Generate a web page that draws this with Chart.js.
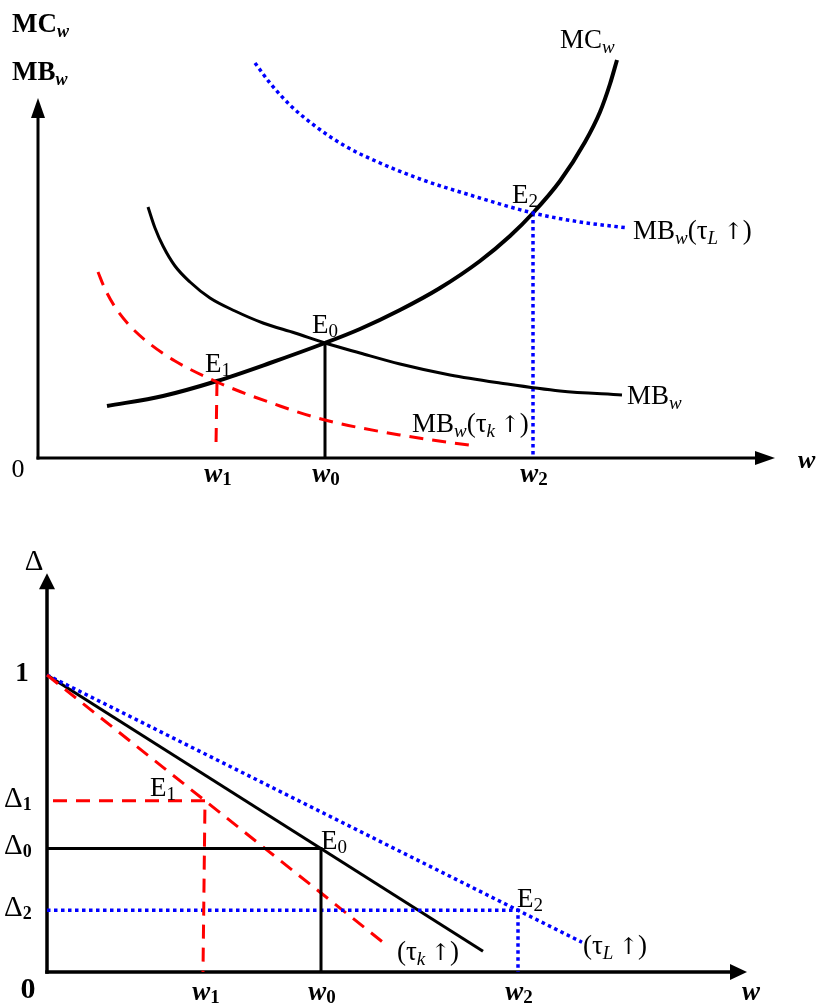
<!DOCTYPE html>
<html><head><meta charset="utf-8">
<script src="https://cdn.jsdelivr.net/npm/chart.js@4.4.1/dist/chart.umd.min.js"></script>
<style>
html,body{margin:0;padding:0;background:#fff;}
#wrap{position:relative;width:819px;height:1006px;background:#fff;}
canvas{position:absolute;left:0;top:0;}
</style>
</head><body>
<div id="wrap"><canvas id="cTop" width="819" height="1006"></canvas><canvas id="cBot" width="819" height="1006"></canvas></div>
<script>
// ---------- Top panel data (w on x, MC/MB on y) ----------
const mcW = [6.9, 12.5, 17.9, 23.2, 28.7, 32.2, 36.2, 40.2, 44.2, 47.2, 49.5, 52.2, 54.7, 56.2, 57.2, 57.9];
const mcV = [5.2, 6.2, 7.7, 9.5, 11.5, 12.9, 14.8, 17.0, 19.7, 22.2, 24.5, 27.7, 31.6, 34.6, 37.4, 39.8];
const mbW = [11.0, 11.7, 12.5, 13.7, 15.2, 17.2, 19.7, 22.5, 25.7, 28.7, 32.2, 36.2, 41.2, 46.2, 52.2, 58.4];
const mbV = [25.1, 23.0, 21.2, 19.2, 17.6, 16.0, 14.7, 13.5, 12.5, 11.5, 10.5, 9.4, 8.3, 7.5, 6.7, 6.3];
const mbKW = [6.0, 6.7, 7.7, 9.2, 11.2, 13.7, 17.9, 24.2, 28.7, 36.2, 43.7];
const mbKV = [18.6, 16.9, 15.1, 13.2, 11.4, 9.7, 7.6, 5.2, 3.8, 2.3, 1.2];
const mbLW = [21.7, 23.2, 25.2, 27.7, 30.7, 34.2, 38.2, 43.2, 49.5, 54.2, 59.0];
const mbLV = [39.5, 37.5, 35.3, 33.2, 31.2, 29.5, 27.9, 26.3, 24.5, 23.6, 23.0];
const topEqW = [17.9, 28.7, 49.5];      // w1, w0, w2
const topEqV = [7.6, 11.5, 24.5];       // E1, E0, E2
const topDropEnd = [1.3, 0, 0];
const topTickSubs = ['1', '0', '2'];
const topEqSubs = ['1', '0', '2'];

// ---------- Bottom panel data (w on x, Delta on y) ----------
const deltaStartW = 0, deltaStartV = 1;
const baseEnd = [43.6, 0.07];
const tkEnd = [33.6, 0.10];
const tlEnd = [53.5, 0.10];
const botEqW = [15.8, 27.4, 47.1];
const botEqV = [0.577, 0.416, 0.208];
const botTickSubs = ['1', '0', '2'];
const deltaTickSubs = ['1', '0', '2'];

const SERIF = '"Liberation Serif","DejaVu Serif",serif';
const F = (size, style) => `${style || ''} ${size}px ${SERIF}`;
const FA = size => `${size}px "DejaVu Serif",serif`;
const zip = (a, b) => a.map((x, i) => ({x, y: b[i]}));

function rich(ctx, x, y, segs, align) {
  let w = 0;
  segs.forEach(s => { ctx.font = s.f; w += ctx.measureText(s.t).width; });
  let cx = align === 'center' ? x - w / 2 : (align === 'right' ? x - w : x);
  ctx.textAlign = 'left'; ctx.textBaseline = 'alphabetic'; ctx.fillStyle = '#000';
  segs.forEach(s => { ctx.font = s.f; ctx.fillText(s.t, cx, y + (s.dy || 0)); cx += ctx.measureText(s.t).width; });
}
function arrowUp(ctx, x, tipY, len, half) {
  ctx.beginPath(); ctx.moveTo(x, tipY); ctx.lineTo(x - half, tipY + len); ctx.lineTo(x + half, tipY + len); ctx.closePath(); ctx.fill();
}
function arrowRight(ctx, tipX, y, len, half) {
  ctx.beginPath(); ctx.moveTo(tipX, y); ctx.lineTo(tipX - len, y - half); ctx.lineTo(tipX - len, y + half); ctx.closePath(); ctx.fill();
}

const BLACK = '#000', RED = '#ff0000', BLUE = '#0000ff';
const DASH = [14, 9], DOT = [3.5, 3.5];

function ds(data, color, width, dash, curved) {
  return {data, borderColor: color, borderWidth: width, borderDash: dash || [], fill: false, clip: false,
    pointRadius: 0, cubicInterpolationMode: curved ? 'monotone' : 'default', tension: 0, borderCapStyle: 'butt'};
}

const common = (pad, xmax, ymin, ymax) => ({
  responsive: false, animation: false, devicePixelRatio: 1, events: [],
  layout: {padding: pad},
  plugins: {legend: {display: false}, tooltip: {enabled: false}},
  scales: {x: {type: 'linear', min: 0, max: xmax, display: false}, y: {type: 'linear', min: ymin, max: ymax, display: false}}
});

const sub = t => ({t, f: F(19, 'italic'), dy: 5});
const tauLabel = s => [{t: '(τ', f: F(27)}, sub(s), {t: '\u2009', f: F(27)}, {t: '↑', f: FA(23)}, {t: ')', f: F(27)}];

// ---------- Top chart ----------
const topPlugin = {
  id: 'topDeco',
  beforeDatasetsDraw(c) {
    const ctx = c.ctx, X = v => c.scales.x.getPixelForValue(v), Y = v => c.scales.y.getPixelForValue(v);
    ctx.save(); ctx.strokeStyle = '#000'; ctx.fillStyle = '#000'; ctx.lineWidth = 3;
    ctx.beginPath(); ctx.moveTo(X(0), Y(0) + 1.5); ctx.lineTo(X(0), Y(34)); ctx.stroke();
    arrowUp(ctx, X(0), Y(36), 20, 7);
    ctx.beginPath(); ctx.moveTo(X(0) - 1.5, Y(0)); ctx.lineTo(X(72), Y(0)); ctx.stroke();
    arrowRight(ctx, X(73.7), Y(0), 20, 7);
    ctx.restore();
  },
  afterDraw(c) {
    const ctx = c.ctx, X = v => c.scales.x.getPixelForValue(v), Y = v => c.scales.y.getPixelForValue(v);
    ctx.save();
    rich(ctx, 12, 32, [{t: 'MC', f: F(27, 'bold')}, {t: 'w', f: F(18, 'italic bold'), dy: 5}]);
    rich(ctx, 12, 80, [{t: 'MB', f: F(27, 'bold')}, {t: 'w', f: F(18, 'italic bold'), dy: 5}]);
    rich(ctx, 18, 477, [{t: '0', f: F(26)}], 'center');
    rich(ctx, 798, 468, [{t: 'w', f: F(26, 'italic bold')}]);
    topEqW.forEach((w, i) => rich(ctx, X(w) + 1, 482, [{t: 'w', f: F(27, 'italic bold')}, {t: topTickSubs[i], f: F(19, 'bold'), dy: 3}], 'center'));
    const eOff = [[-12, -10], [-13, -10], [-21, -10]];
    topEqW.forEach((w, i) => rich(ctx, X(w) + eOff[i][0], Y(topEqV[i]) + eOff[i][1], [{t: 'E', f: F(27)}, {t: topEqSubs[i], f: F(19), dy: 4}]));
    let n = mcW.length - 1;
    rich(ctx, X(mcW[n]) - 57, Y(mcV[n]) - 12, [{t: 'MC', f: F(27)}, sub('w')]);
    n = mbW.length - 1;
    rich(ctx, X(mbW[n]) + 5, Y(mbV[n]) + 9, [{t: 'MB', f: F(27)}, sub('w')]);
    n = mbLW.length - 1;
    rich(ctx, X(mbLW[n]) + 5, Y(mbLV[n]) + 11, [{t: 'MB', f: F(27)}, sub('w')].concat(tauLabel('L')));
    n = mbKW.length - 1;
    rich(ctx, X(mbKW[n]) - 63, Y(mbKV[n]) - 14, [{t: 'MB', f: F(27)}, sub('w')].concat(tauLabel('k')));
    ctx.restore();
  }
};

new Chart(document.getElementById('cTop'), {
  type: 'line',
  data: {datasets: [
    ds(zip(mbKW, mbKV), RED, 3, DASH, true),
    ds(zip(mbLW, mbLV), BLUE, 3.5, DOT, true),
    ds(zip(mbW, mbV), BLACK, 3, null, true),
    ds(zip(mcW, mcV), BLACK, 4, null, true),
    ds([{x: topEqW[0], y: topEqV[0]}, {x: topEqW[0] - 0.1, y: topDropEnd[0]}], RED, 3, DASH, false),
    ds([{x: topEqW[1], y: topEqV[1]}, {x: topEqW[1], y: topDropEnd[1]}], BLACK, 3, null, false),
    ds([{x: topEqW[2], y: topEqV[2]}, {x: topEqW[2], y: topDropEnd[2]}], BLUE, 3.5, DOT, false)
  ]},
  options: common({left: 38, right: 21, top: 8, bottom: 548}, 76, 0, 45),
  plugins: [topPlugin]
});

// ---------- Bottom chart ----------
const botPlugin = {
  id: 'botDeco',
  beforeDatasetsDraw(c) {
    const ctx = c.ctx, X = v => c.scales.x.getPixelForValue(v), Y = v => c.scales.y.getPixelForValue(v);
    ctx.save(); ctx.strokeStyle = '#000'; ctx.fillStyle = '#000'; ctx.lineWidth = 3.5;
    ctx.beginPath(); ctx.moveTo(X(0), Y(0) + 1.75); ctx.lineTo(X(0), Y(1.3)); ctx.stroke();
    arrowUp(ctx, X(0), Y(1.343), 16, 8);
    ctx.beginPath(); ctx.moveTo(X(0) - 1.75, Y(0)); ctx.lineTo(X(68.5), Y(0)); ctx.stroke();
    arrowRight(ctx, X(70), Y(0), 17, 8);
    ctx.restore();
  },
  afterDraw(c) {
    const ctx = c.ctx, X = v => c.scales.x.getPixelForValue(v), Y = v => c.scales.y.getPixelForValue(v);
    ctx.save();
    rich(ctx, 34, 570, [{t: 'Δ', f: F(29)}], 'center');
    rich(ctx, 22, Y(1) + 6, [{t: '1', f: F(27, 'bold')}], 'center');
    botEqV.forEach((v, i) => rich(ctx, 4, Y(v) + 6, [{t: 'Δ', f: F(29)}, {t: deltaTickSubs[i], f: F(18, 'bold'), dy: 3}]));
    rich(ctx, 28, 998, [{t: '0', f: F(30, 'bold')}], 'center');
    rich(ctx, 742, 1000, [{t: 'w', f: F(27, 'italic bold')}]);
    botEqW.forEach((w, i) => rich(ctx, X(w) + 1, 1000, [{t: 'w', f: F(27, 'italic bold')}, {t: botTickSubs[i], f: F(19, 'bold'), dy: 3}], 'center'));
    const eOff = [[-55, -5], [0, 1], [-1, -3]];
    botEqW.forEach((w, i) => rich(ctx, X(w) + eOff[i][0], Y(botEqV[i]) + eOff[i][1], [{t: 'E', f: F(27)}, {t: topEqSubs[i], f: F(19), dy: 4}]));
    rich(ctx, X(tkEnd[0]) + 14, Y(tkEnd[1]) + 18, tauLabel('k'));
    rich(ctx, X(tlEnd[0]) + 1, Y(tlEnd[1]) + 12, tauLabel('L'));
    ctx.restore();
  }
};

new Chart(document.getElementById('cBot'), {
  type: 'line',
  data: {datasets: [
    ds([{x: 0.6, y: botEqV[0]}, {x: botEqW[0], y: botEqV[0]}, {x: botEqW[0] - 0.2, y: 0}], RED, 3, DASH, false),
    ds([{x: 0, y: botEqV[1]}, {x: botEqW[1], y: botEqV[1]}, {x: botEqW[1], y: 0}], BLACK, 3, null, false),
    ds([{x: 0, y: botEqV[2]}, {x: botEqW[2], y: botEqV[2]}, {x: botEqW[2], y: 0}], BLUE, 3.5, DOT, false),
    ds([{x: deltaStartW, y: deltaStartV}, {x: tkEnd[0], y: tkEnd[1]}], RED, 3, DASH, false),
    ds([{x: deltaStartW, y: deltaStartV}, {x: tlEnd[0], y: tlEnd[1]}], BLUE, 3.5, DOT, false),
    ds([{x: deltaStartW, y: deltaStartV}, {x: baseEnd[0], y: baseEnd[1]}], BLACK, 3, null, false)
  ]},
  options: common({left: 47, right: 12, top: 972 - 1.45 * 297, bottom: 34}, 76, 0, 1.45),
  plugins: [botPlugin]
});
</script>
</body></html>
